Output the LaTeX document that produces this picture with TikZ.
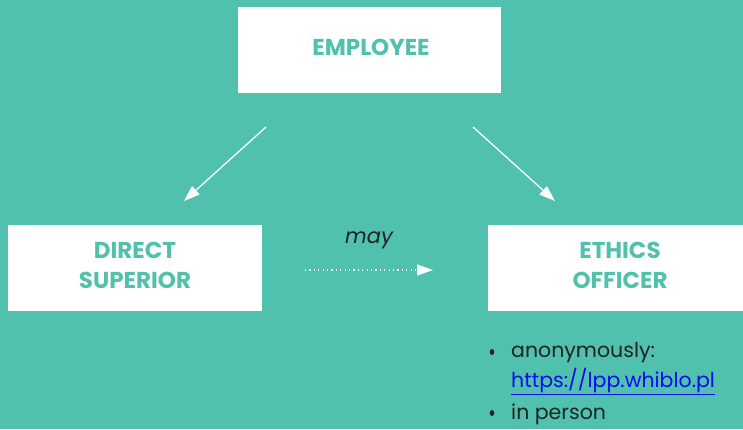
\documentclass[tikz,border=0pt]{standalone}
\usepackage{fontspec}
\setmainfont{Poppins}
\usetikzlibrary{arrows.meta,shapes.geometric}
\definecolor{teal1}{HTML}{4FC1AD}
\definecolor{dark1}{HTML}{222222}
\definecolor{link1}{HTML}{0A0AF0}
\begin{document}
\begin{tikzpicture}[x=1pt,y=-1pt,
  box/.style={fill=white,draw=none,inner sep=0pt,minimum width=#1,minimum height=86pt},
  lbl/.style={inner sep=0pt,font=\fontsize{23}{30}\selectfont\bfseries,text=teal1,align=center},
  conn/.style={white,line width=1.3pt,-{Triangle[length=16pt,width=11pt]}},
  item/.style={anchor=west,inner sep=0pt,font=\fontsize{20.5}{24}\selectfont,text=dark1},
  bul/.style={fill=dark1,ellipse,inner sep=0pt,minimum width=4.5pt,minimum height=6pt}]
\fill[teal1] (0,0) rectangle (743,429);
\useasboundingbox (0,0) rectangle (743,429);
\node[box=263pt] (emp) at (369.5,50) {};
\node[box=254pt] (sup) at (135,268) {};
\node[box=255pt] (eth) at (615.5,268) {};
\node[lbl] (empt) at (371,47) {EMPLOYEE};
\node[lbl] (supt) at (135,265.5) {DIRECT\\SUPERIOR};
\node[lbl] (etht) at (620,265.5) {ETHICS\\OFFICER};
\coordinate (a1) at (266,127);
\coordinate (a2) at (184,201);
\coordinate (b1) at (473,127);
\coordinate (b2) at (555,201);
\draw[conn] (a1) -- (a2);
\draw[conn] (b1) -- (b2);
\coordinate (d1) at (305,270);
\coordinate (d2) at (433,270);
\draw[white,line width=1.4pt,dash pattern=on 1.2pt off 3.2pt,-{Triangle[length=16pt,width=11pt]}] (d1) -- (d2);
\node[inner sep=0pt,font=\fontsize{21}{24}\selectfont\itshape,text=dark1] (may) at (369,240) {may};
\node[bul] (b1n) at (492,352) {};
\node[item] (t1) at (511,353) {anonymously:};
\node[item,text=link1] (t2) at (511,381) {\underline{https://lpp.whiblo.pl}};
\node[bul] (b2n) at (492,413) {};
\node[item] (t3) at (511,414) {in person};
\end{tikzpicture}
\end{document}
